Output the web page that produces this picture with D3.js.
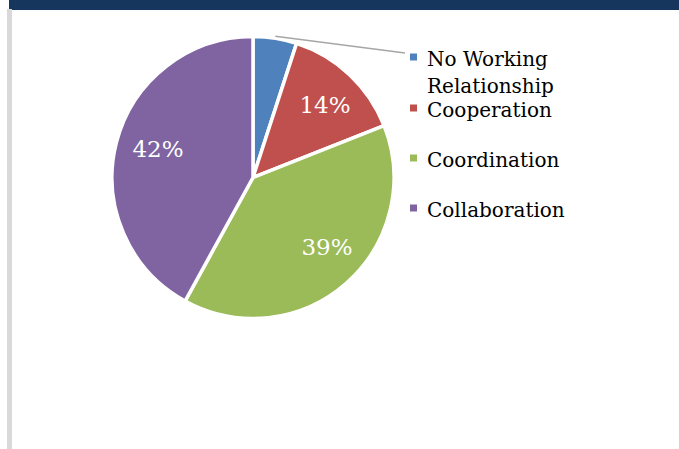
<!DOCTYPE html>
<html>
<head>
<meta charset="utf-8">
<script src="https://cdn.jsdelivr.net/npm/d3@7"></script>
<style>
  html, body { margin: 0; padding: 0; background: #fff; }
  svg { display: block; }
</style>
</head>
<body>
<svg id="chart" width="679" height="449"></svg>
<script>
// Working-relationship shares (percent)
const categories = ["No Working Relationship", "Cooperation", "Coordination", "Collaboration"];
const values = [5, 14, 39, 42];
const colors = ["#4f81bd", "#c0504d", "#9bbb59", "#8064a2"];
const legendLines = [["No Working", "Relationship"], ["Cooperation"], ["Coordination"], ["Collaboration"]];

const svg = d3.select("#chart");
const W = 679, H = 449;

// page frame: navy header band and grey side rule
svg.append("rect").attr("x", 9).attr("y", 0).attr("width", W - 9).attr("height", 10).attr("fill", "#17365d");
svg.append("rect").attr("x", 7).attr("y", 9).attr("width", 5).attr("height", H - 9).attr("fill", "#d9d9d9");

const cx = 253, cy = 177.5, r = 141;
const data = categories.map((c, i) => ({ name: c, value: values[i], color: colors[i] }));

const pie = d3.pie().sort(null).value(d => d.value);
const arcs = pie(data);
const arc = d3.arc().innerRadius(0).outerRadius(r);
const labelArc = d3.arc().innerRadius(r * 0.62).outerRadius(r * 0.62);

const g = svg.append("g").attr("transform", `translate(${cx},${cy})`);

g.selectAll("path.slice")
  .data(arcs)
  .join("path")
  .attr("class", "slice")
  .attr("d", arc)
  .attr("fill", d => d.data.color)
  .attr("stroke", "#fff")
  .attr("stroke-width", 3.5)
  .attr("stroke-linejoin", "round");

// leader line from the smallest slice toward the legend
const first = arcs[0];
const mid = (first.startAngle + first.endAngle) / 2;
const p0 = [Math.sin(mid) * (r + 2), -Math.cos(mid) * (r + 2)];
g.append("line")
  .attr("x1", p0[0]).attr("y1", p0[1])
  .attr("x2", 405 - cx).attr("y2", 53 - cy)
  .attr("stroke", "#a6a6a6").attr("stroke-width", 1.5);

// percentage labels
const labelPos = { "Cooperation": [72, -73], "Coordination": [74, 69], "Collaboration": [-95, -29] };
g.selectAll("text.pct")
  .data(arcs.filter(d => d.index > 0))
  .join("text")
  .attr("class", "pct")
  .attr("x", d => labelPos[d.data.name] ? labelPos[d.data.name][0] : labelArc.centroid(d)[0])
  .attr("y", d => labelPos[d.data.name] ? labelPos[d.data.name][1] : labelArc.centroid(d)[1])
  .attr("text-anchor", "middle")
  .attr("dominant-baseline", "central")
  .attr("fill", "#fff")
  .attr("font-family", "'DejaVu Serif', serif")
  .attr("font-size", 23)
  .text(d => d3.format(".0f")(d.data.value) + "%");

// legend
const legendTop = [57, 108, 158, 208];
const legend = svg.append("g");
data.forEach((d, i) => {
  legend.append("rect")
    .attr("x", 410).attr("y", legendTop[i] - 3.5)
    .attr("width", 7).attr("height", 7)
    .attr("fill", d.color);
  legendLines[i].forEach((line, j) => {
    legend.append("text")
      .attr("x", 427)
      .attr("y", legendTop[i] + 8.5 + j * 27)
      .attr("font-family", "'DejaVu Serif', serif")
      .attr("font-size", 20)
      .attr("fill", "#000")
      .text(line);
  });
});
</script>
</body>
</html>
